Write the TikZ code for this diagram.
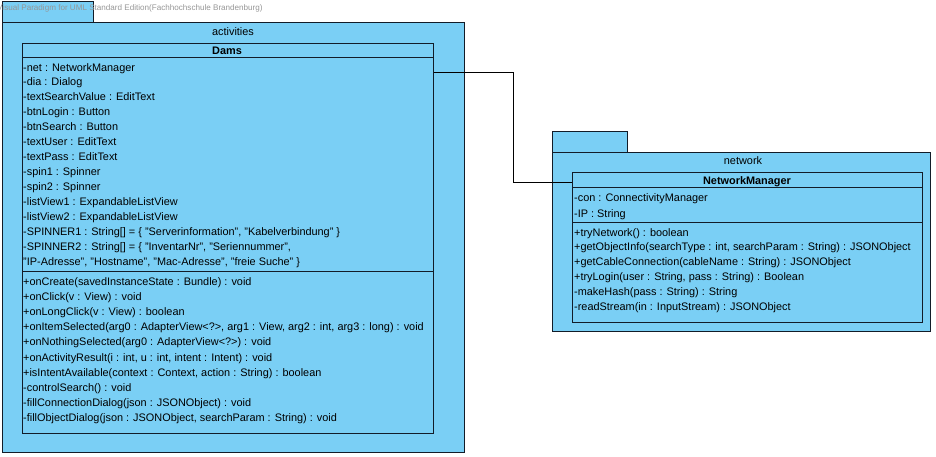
\documentclass[tikz,border=0pt]{standalone}
\usepackage{fontspec}
\setmainfont{Liberation Sans}
\begin{document}
\begin{tikzpicture}[x=1pt,y=-1pt,
  umlfill/.style={fill={rgb,255:red,122;green,207;blue,245}},
  umlline/.style={draw={rgb,255:red,18;green,28;blue,40},line width=0.9pt},
  pkgpart/.style={umlfill,umlline,rectangle,inner sep=0pt,anchor=north west},
  classbox/.style={umlfill,umlline,rectangle,inner sep=0pt,anchor=north west},
  member/.style={inner sep=0pt,anchor=base west,font=\fontsize{10.9}{12}\selectfont},
  title/.style={inner sep=0pt,anchor=base,font=\fontsize{10.9}{12}\selectfont},
  ctitle/.style={inner sep=0pt,anchor=base,font=\fontsize{10.9}{12}\selectfont\bfseries},
  sep/.style={umlline},
  assoc/.style={draw=black,line width=0.9pt}]
\useasboundingbox (0,0) rectangle (936,456);

% ---------- package "activities"
\node[pkgpart,minimum width=91,minimum height=22] (acttab) at (2,1) {};
\node[pkgpart,minimum width=462,minimum height=430] (actbody) at (2,22) {};
\node[title] (actname) at (233,35) {activities};

% ---------- class Dams
\node[classbox,minimum width=411,minimum height=390] (dams) at (22,43) {};
\draw[sep] (dams.west |- 0,57) -- (dams.east |- 0,57);
\draw[sep] (dams.west |- 0,271) -- (dams.east |- 0,271);
\node[ctitle] (damsname) at (227,54) {Dams};
\foreach \t [count=\i] in {
  -net : NetworkManager,
  -dia : Dialog,
  -textSearchValue : EditText,
  -btnLogin : Button,
  -btnSearch : Button,
  -textUser : EditText,
  -textPass : EditText,
  -spin1 : Spinner,
  -spin2 : Spinner,
  -listView1 : ExpandableListView,
  -listView2 : ExpandableListView,
  {-SPINNER1 : String[] = \{ "Serverinformation", "Kabelverbindung" \}},
  {-SPINNER2 : String[] = \{ "InventarNr", "Seriennummer",},
  {"IP-Adresse", "Hostname", "Mac-Adresse", "freie Suche" \}}}
  \node[member] (dattr\i) at (23,{71+14.93*(\i-1)}) {\t};
\foreach \t [count=\i] in {
  +onCreate(savedInstanceState : Bundle) : void,
  +onClick(v : View) : void,
  +onLongClick(v : View) : boolean,
  {+onItemSelected(arg0 : AdapterView<?>, arg1 : View, arg2 : int, arg3 : long) : void},
  +onNothingSelected(arg0 : AdapterView<?>) : void,
  {+onActivityResult(i : int, u : int, intent : Intent) : void},
  {+isIntentAvailable(context : Context, action : String) : boolean},
  -controlSearch() : void,
  -fillConnectionDialog(json : JSONObject) : void,
  {-fillObjectDialog(json : JSONObject, searchParam : String) : void}}
  \node[member] (dop\i) at (23,{285+15.2*(\i-1)}) {\t};

% ---------- package "network"
\node[pkgpart,minimum width=75,minimum height=21] (nettab) at (552,131) {};
\node[pkgpart,minimum width=378,minimum height=179] (netbody) at (552,152) {};
\node[title] (netname) at (743,164) {network};

% ---------- class NetworkManager
\node[classbox,minimum width=350,minimum height=150] (nm) at (572,172) {};
\draw[sep] (nm.west |- 0,187) -- (nm.east |- 0,187);
\draw[sep] (nm.west |- 0,222) -- (nm.east |- 0,222);
\node[ctitle] (nmname) at (747,184) {NetworkManager};
\node[member] (nattr1) at (574,201) {-con : ConnectivityManager};
\node[member] (nattr2) at (574,217) {-IP : String};
\foreach \t [count=\i] in {
  +tryNetwork() : boolean,
  {+getObjectInfo(searchType : int, searchParam : String) : JSONObject},
  +getCableConnection(cableName : String) : JSONObject,
  {+tryLogin(user : String, pass : String) : Boolean},
  -makeHash(pass : String) : String,
  -readStream(in : InputStream) : JSONObject}
  \node[member] (nop\i) at (574,{236+14.8*(\i-1)}) {\t};

% ---------- association Dams -- NetworkManager
\coordinate (bendA) at (513,72);
\coordinate (bendB) at (513,182);
\draw[assoc] (dams.east |- bendA) -- (bendA) -- (bendB) -- (nm.west |- bendB);

% ---------- tool watermark
\node[inner sep=0pt,anchor=base west,text={rgb,255:red,150;green,150;blue,150},
  font=\fontsize{8.1}{9}\selectfont] (wm) at (-3,10)
  {Visual Paradigm for UML Standard Edition(Fachhochschule Brandenburg)};
\end{tikzpicture}
\end{document}
